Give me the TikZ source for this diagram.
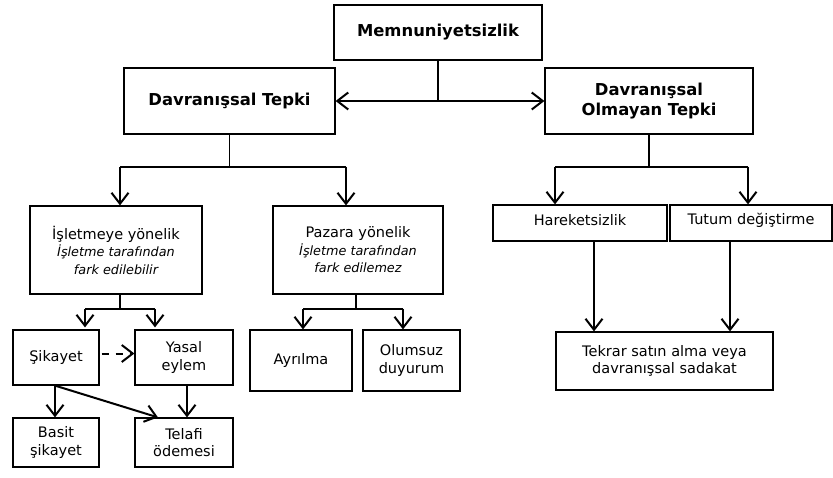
\documentclass[tikz,border=0pt]{standalone}
\usepackage{fontspec}
\setmainfont{DejaVu Sans}
\usetikzlibrary{arrows.meta,calc}
\newcommand\subline{\fontsize{12.8}{17}\selectfont\itshape}
\tikzset{
  box/.style={draw=black, line width=1.2pt, fill=white, inner sep=0pt, align=center,
    font=\fontsize{14.5}{17.5}\selectfont},
  headbox/.style={box, font=\fontsize{16.4}{20}\selectfont\bfseries},
  stem/.style={draw=black, line width=1.2pt},
  bar/.style={draw=black, line width=2pt},
  arr/.style={draw=black, line width=2pt, -{Straight Barb[length=11pt,width=17pt,line width=2pt]}},
  dasharr/.style={arr, dash pattern=on 7pt off 7pt}
}
\begin{document}
\begin{tikzpicture}[x=1pt,y=-1pt]
\useasboundingbox (0,0) rectangle (833,477);

% boxes
\node[headbox, minimum width=208, minimum height=55] (memn) at (438,32.5) {Memnuniyetsizlik};
\node[headbox, minimum width=211, minimum height=66] (dt) at (229.5,101) {Davranışsal Tepki};
\node[headbox, minimum width=208, minimum height=66] (dot) at (649,101) {Davranışsal\\Olmayan Tepki};

\node[box, minimum width=172, minimum height=88] (isl) at (116,250)
  {İşletmeye yönelik\\{\subline İşletme tarafından}\\{\subline fark edilebilir}};
\node[box, minimum width=170, minimum height=88] (paz) at (358,250)
  {Pazara yönelik\\{\subline İşletme tarafından}\\{\subline fark edilemez}};

\node[box, minimum width=86, minimum height=55] (sik) at (56,357.5) {Şikayet};
\node[box, minimum width=98, minimum height=55] (yas) at (184,357.5) {Yasal\\eylem};
\node[box, minimum width=86, minimum height=49] (bas) at (56,442.5) {Basit\\şikayet};
\node[box, minimum width=98, minimum height=49] (tel) at (184,442.5) {Telafi\\ödemesi};

\node[box, minimum width=102, minimum height=61] (ayr) at (301,360.5) {Ayrılma};
\node[box, minimum width=97, minimum height=61] (olu) at (411.5,360.5) {Olumsuz\\duyurum};

\node[box, minimum width=174, minimum height=36] (har) at (580,223) {};
\node[anchor=center, font=\fontsize{14.5}{17.5}\selectfont] (hart) at ($(har.center)+(0,-3)$) {Hareketsizlik};
\node[box, minimum width=162, minimum height=36] (tut) at (751,223) {};
\node[anchor=center, font=\fontsize{14.5}{17.5}\selectfont] (tutt) at ($(tut.center)+(0,-3)$) {Tutum değiştirme};
\node[box, minimum width=217, minimum height=58] (tek) at (664.5,361) {Tekrar satın alma veya\\davranışsal sadakat};

% top split
\coordinate (mj) at (memn.south |- dt.east);
\draw[stem] (memn.south) -- (mj);
\draw[arr] (mj) -- (dt.east);
\draw[arr] (mj) -- (dot.west);

% behavioural branch
\coordinate (dtj) at ($(dt.south)+(0,32)$);
\coordinate (islin) at ($(isl.north)+(4,0)$);
\coordinate (pazin) at ($(paz.north)+(-12,0)$);
\draw[stem] (dt.south) -- (dtj);
\draw[bar] (islin |- dtj) -- (pazin |- dtj);
\draw[arr] (islin |- dtj) -- (islin);
\draw[arr] (pazin |- dtj) -- (pazin);

% non-behavioural branch
\coordinate (dotj) at ($(dot.south)+(0,32)$);
\coordinate (harin) at ($(har.north)+(-25,0)$);
\coordinate (tutin) at ($(tut.north)+(-3,0)$);
\draw[stem] (dot.south) -- (dotj);
\draw[bar] (harin |- dotj) -- (tutin |- dotj);
\draw[arr] (harin |- dotj) -- (harin);
\draw[arr] (tutin |- dotj) -- (tutin);

% towards the firm
\coordinate (islj) at ($(isl.south)+(4,14)$);
\coordinate (sikin) at ($(sik.north)+(29,-2)$);
\coordinate (yasin) at ($(yas.north)+(-29,-2)$);
\draw[stem] (islj |- isl.south) -- (islj);
\draw[bar] (sikin |- islj) -- (yasin |- islj);
\draw[arr] (sikin |- islj) -- (sikin);
\draw[arr] (yasin |- islj) -- (yasin);
\draw[dasharr] ($(sik.east)+(2,-4)$) -- ($(yas.west)+(0,-4)$);

\coordinate (sikout) at ($(sik.south)+(-1,0)$);
\draw[arr] (sikout) -- (sikout |- bas.north);
\draw[arr] (sikout) -- ($(tel.north)+(-26,0)$);
\coordinate (yasout) at ($(yas.south)+(3,0)$);
\draw[arr] (yasout) -- (yasout |- tel.north);

% towards the market
\coordinate (pazj) at ($(paz.south)+(-2,14)$);
\coordinate (ayrin) at ($(ayr.north)+(2,0)$);
\coordinate (oluin) at ($(olu.north)+(-8.5,0)$);
\draw[stem] (pazj |- paz.south) -- (pazj);
\draw[bar] (ayrin |- pazj) -- (oluin |- pazj);
\draw[arr] (ayrin |- pazj) -- (ayrin);
\draw[arr] (oluin |- pazj) -- (oluin);

% towards loyalty
\coordinate (harout) at ($(har.south)+(14,0)$);
\coordinate (tutout) at ($(tut.south)+(-21,0)$);
\draw[arr] (harout) -- (harout |- tek.north);
\draw[arr] (tutout) -- (tutout |- tek.north);
\end{tikzpicture}
\end{document}
